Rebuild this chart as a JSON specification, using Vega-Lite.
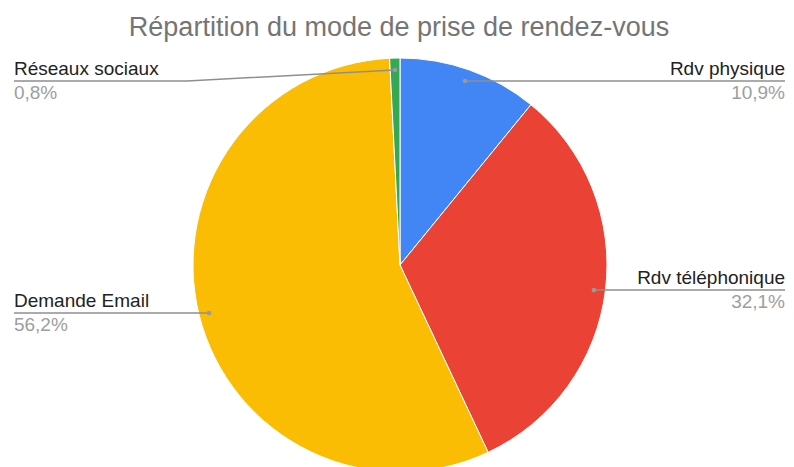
{
  "$schema": "https://vega.github.io/schema/vega-lite/v6.json",
  "autosize": {"type": "none"},
  "width": 794,
  "height": 422,
  "padding": {"top": 45, "left": 0, "right": 0, "bottom": 0},
  "background": "white",
  "config": {"view": {"stroke": null}, "font": "Liberation Sans"},
  "title": {
    "text": "Répartition du mode de prise de rendez-vous",
    "fontSize": 27,
    "fontWeight": "normal",
    "color": "#757575",
    "font": "Liberation Sans",
    "anchor": "middle",
    "frame": "group",
    "offset": 2.6,
    "dx": 2
  },
  "datasets": {
    "slices": [
      {"cat": "Rdv physique", "value": 10.9, "order": 1, "pct": "10,9%", "lx": 1.86, "ly": 0.889, "side": "R"},
      {"cat": "Rdv téléphonique", "value": 32.1, "order": 2, "pct": "32,1%", "lx": 1.86, "ly": -0.121, "side": "R"},
      {"cat": "Demande Email", "value": 56.2, "order": 3, "pct": "56,2%", "lx": -1.865, "ly": -0.232, "side": "L"},
      {"cat": "Réseaux sociaux", "value": 0.8, "order": 4, "pct": "0,8%", "lx": -1.865, "ly": 0.889, "side": "L"}
    ],
    "leaders": [
      {"cat": "Rdv physique", "i": 0, "x": 0.314, "y": 0.889},
      {"cat": "Rdv physique", "i": 1, "x": 1.86, "y": 0.889},
      {"cat": "Rdv téléphonique", "i": 0, "x": 0.937, "y": -0.121},
      {"cat": "Rdv téléphonique", "i": 1, "x": 1.86, "y": -0.121},
      {"cat": "Demande Email", "i": 0, "x": -0.923, "y": -0.232},
      {"cat": "Demande Email", "i": 1, "x": -1.865, "y": -0.232},
      {"cat": "Réseaux sociaux", "i": 0, "x": -0.024, "y": 0.942},
      {"cat": "Réseaux sociaux", "i": 1, "x": -1.029, "y": 0.889},
      {"cat": "Réseaux sociaux", "i": 2, "x": -1.865, "y": 0.889}
    ],
    "dots": [
      {"cat": "Rdv physique", "x": 0.314, "y": 0.889},
      {"cat": "Rdv téléphonique", "x": 0.937, "y": -0.121},
      {"cat": "Demande Email", "x": -0.923, "y": -0.232},
      {"cat": "Réseaux sociaux", "x": -0.024, "y": 0.942}
    ]
  },
  "layer": [
    {
      "data": {"name": "slices"},
      "mark": {"type": "arc", "outerRadius": 207, "stroke": "white", "strokeWidth": 1},
      "encoding": {
        "x": {"datum": 0, "type": "quantitative", "scale": {"domain": [-1.9324, 1.9034], "nice": false, "zero": false}, "axis": null},
        "y": {"datum": 0, "type": "quantitative", "scale": {"domain": [-0.9758, 1.0628], "nice": false, "zero": false}, "axis": null},
        "theta": {"field": "value", "type": "quantitative", "stack": true},
        "order": {"field": "order", "type": "quantitative"},
        "color": {
          "field": "cat",
          "type": "nominal",
          "scale": {
            "domain": ["Rdv physique", "Rdv téléphonique", "Demande Email", "Réseaux sociaux"],
            "range": ["#4285F4", "#EA4335", "#FBBC04", "#34A853"]
          },
          "legend": null
        }
      }
    },
    {
      "data": {"name": "leaders"},
      "mark": {"type": "line", "color": "#8f8f8f", "strokeWidth": 1.5},
      "encoding": {
        "x": {"field": "x", "type": "quantitative"},
        "y": {"field": "y", "type": "quantitative"},
        "detail": {"field": "cat"},
        "order": {"field": "i", "type": "quantitative"}
      }
    },
    {
      "data": {"name": "dots"},
      "mark": {"type": "point", "filled": true, "size": 22, "color": "#9a9a9a", "opacity": 1},
      "encoding": {
        "x": {"field": "x", "type": "quantitative"},
        "y": {"field": "y", "type": "quantitative"}
      }
    },
    {
      "data": {"name": "slices"},
      "mark": {"type": "text", "fontSize": 19, "color": "#222222", "baseline": "alphabetic", "dy": -6, "align": {"expr": "datum.side === 'R' ? 'right' : 'left'"}},
      "encoding": {
        "x": {"field": "lx", "type": "quantitative"},
        "y": {"field": "ly", "type": "quantitative"},
        "text": {"field": "cat"}
      }
    },
    {
      "data": {"name": "slices"},
      "mark": {"type": "text", "fontSize": 19, "color": "#9e9e9e", "baseline": "alphabetic", "dy": 18, "align": {"expr": "datum.side === 'R' ? 'right' : 'left'"}},
      "encoding": {
        "x": {"field": "lx", "type": "quantitative"},
        "y": {"field": "ly", "type": "quantitative"},
        "text": {"field": "pct"}
      }
    }
  ]
}
